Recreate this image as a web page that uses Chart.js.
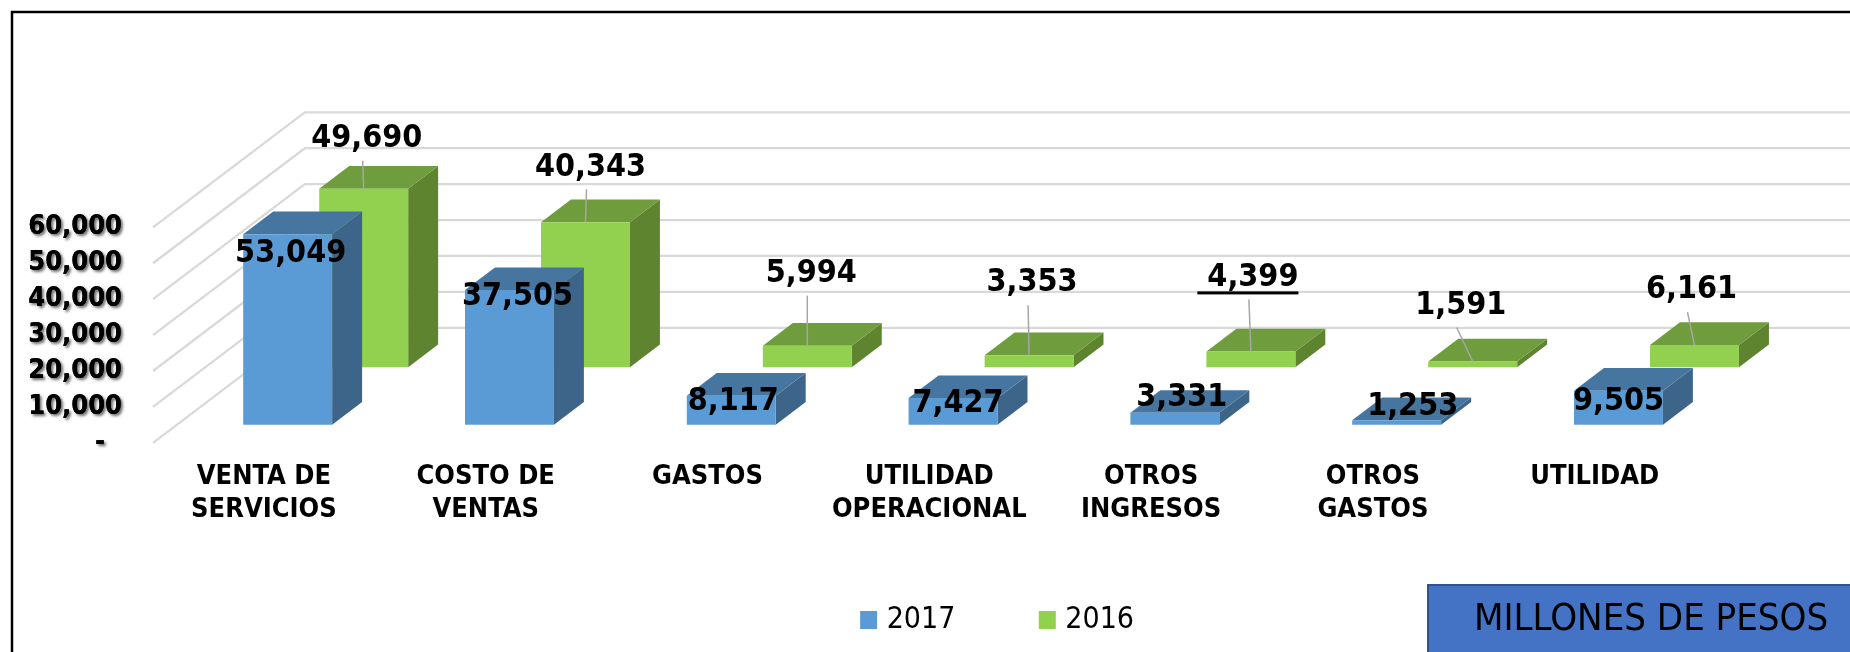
<!DOCTYPE html>
<html>
<head>
<meta charset="utf-8">
<title>Millones de pesos</title>
<script src="https://cdn.jsdelivr.net/npm/chart.js"></script>
<style>
  html, body { margin: 0; padding: 0; background: #fff; overflow: hidden; }
  canvas { display: block; }
</style>
</head>
<body>
<canvas id="myChart" width="1850" height="652"></canvas>
<script>
// data
var categories = [
  ['VENTA DE', 'SERVICIOS'],
  ['COSTO DE', 'VENTAS'],
  'GASTOS',
  ['UTILIDAD', 'OPERACIONAL'],
  ['OTROS', 'INGRESOS'],
  ['OTROS', 'GASTOS'],
  'UTILIDAD'
];
var values2017 = [53049, 37505, 8117, 7427, 3331, 1253, 9505];
var values2016 = [49690, 40343, 5994, 3353, 4399, 1591, 6161];
var seriesNames = ['2017', '2016'];
var yTickLabels = ['-  ', '10,000', '20,000', '30,000', '40,000', '50,000', '60,000'];

// where each value label sits, relative to the top front edge of its bar
var labelOffsets2017 = [[3, 19], [8, 7], [2, 6], [5, 6], [7, -15], [16, -14], [0, 11]];
var labelOffsets2016 = [[3, -50], [5, -55], [4, -72], [3, -72], [2, -74], [-12, -56], [-3, -55]];

var FONT = 'DejaVu Sans Condensed';

// fake 3d: a point at depth d moves up by d and right by d * SLOPE
var SLOPE = 1.32;
var WALL_DEPTH = 115;
var BAR_DEPTH = 22.7;
var seriesDepth = [18, 75.6];
var seriesColors = [
  { front: '#5B9BD5', top: '#46759F', side: '#3C6589' },
  { front: '#92D050', top: '#6F9C3C', side: '#5F8430' }
];

function poly(ctx, color, pts) {
  ctx.fillStyle = color;
  ctx.beginPath();
  ctx.moveTo(pts[0][0], pts[0][1]);
  for (var i = 1; i < pts.length; i++) ctx.lineTo(pts[i][0], pts[i][1]);
  ctx.closePath();
  ctx.fill();
}

var fake3d = {
  id: 'fake3d',
  afterLayout: function(chart) {
    // legend sits lower and right of where chart.js centers it
    chart.legend.left += 147;
    chart.legend.right += 147;
    chart.legend.top = 516;
  },
  beforeDraw: function(chart) {
    var ctx = chart.ctx, y = chart.scales.y;

    // frame
    ctx.save();
    ctx.strokeStyle = '#000';
    ctx.lineWidth = 2.5;
    ctx.beginPath();
    ctx.moveTo(12, 652);
    ctx.lineTo(12, 12);
    ctx.lineTo(1850, 12);
    ctx.stroke();
    ctx.restore();

    // soft shadow under the y labels
    ctx.save();
    ctx.font = 'bold 27px ' + FONT;
    ctx.textAlign = 'right';
    ctx.textBaseline = 'middle';
    ctx.fillStyle = '#000';
    ctx.shadowColor = 'rgba(0,0,0,0.6)';
    ctx.shadowBlur = 3;
    ctx.shadowOffsetX = 2;
    ctx.shadowOffsetY = 2;
    y.ticks.forEach(function(t, i) {
      ctx.fillText(yTickLabels[i], y.right - y.options.ticks.padding, y.getPixelForTick(i));
    });
    ctx.restore();
  },
  beforeDatasetsDraw: function(chart) {
    var ctx = chart.ctx, y = chart.scales.y, area = chart.chartArea;
    var dx = WALL_DEPTH * SLOPE;

    // grid runs along the side wall, then along the back wall
    ctx.save();
    ctx.strokeStyle = '#D9D9D9';
    ctx.lineWidth = 2.3;
    y.ticks.forEach(function(t, i) {
      var py = y.getPixelForTick(i);
      ctx.beginPath();
      ctx.moveTo(area.left, py);
      ctx.lineTo(area.left + dx, py - WALL_DEPTH);
      ctx.lineTo(chart.width, py - WALL_DEPTH);
      ctx.stroke();
    });
    ctx.restore();
  },
  beforeDatasetDraw: function(chart, args) {
    var ctx = chart.ctx;
    var d = seriesDepth[args.index], c = seriesColors[args.index];
    var ox = d * SLOPE, bx = BAR_DEPTH * SLOPE;
    args.meta.data.forEach(function(bar) {
      var l = bar.x - bar.width / 2 + ox, r = bar.x + bar.width / 2 + ox;
      var t = bar.y - d, b = bar.base - d;
      poly(ctx, c.side, [[r, t], [r + bx, t - BAR_DEPTH], [r + bx, b - BAR_DEPTH], [r, b]]);
      poly(ctx, c.top, [[l, t], [l + bx, t - BAR_DEPTH], [r + bx, t - BAR_DEPTH], [r, t]]);
      poly(ctx, c.front, [[l, t], [r, t], [r, b], [l, b]]);
    });
    return false; // flat bar from chart.js not wanted
  },
  afterDatasetsDraw: function(chart) {
    var ctx = chart.ctx;
    var offsets = [labelOffsets2017, labelOffsets2016];
    ctx.save();
    ctx.font = 'bold 32px ' + FONT;
    ctx.textAlign = 'center';
    ctx.textBaseline = 'middle';
    chart.data.datasets.forEach(function(ds, s) {
      var d = seriesDepth[s], meta = chart.getDatasetMeta(s);
      meta.data.forEach(function(bar, i) {
        var cx = bar.x + d * SLOPE, top = bar.y - d;
        var lx = cx + offsets[s][i][0], ly = top + offsets[s][i][1];
        if (s === 1) {
          // leader line up from the 2016 bars
          ctx.strokeStyle = '#A6A6A6';
          ctx.lineWidth = 1.5;
          ctx.beginPath();
          ctx.moveTo(lx - 4, ly + 22);
          ctx.lineTo(cx, top);
          ctx.stroke();
        }
        var txt = ds.data[i].toLocaleString('en-US');
        ctx.fillStyle = '#000';
        ctx.fillText(txt, lx, ly);
        if (s === 1 && i === 4) {
          // this one label is underlined in the original, with a blank in front
          var w = ctx.measureText(txt).width;
          ctx.fillRect(lx - w / 2 - 10, ly + 14, w + 10, 3);
        }
      });
    });
    ctx.restore();

    // note in the corner
    ctx.save();
    ctx.fillStyle = '#4472C4';
    ctx.fillRect(1427, 584, 423, 68);
    ctx.strokeStyle = '#2F528F';
    ctx.lineWidth = 2;
    ctx.beginPath();
    ctx.moveTo(1428, 652);
    ctx.lineTo(1428, 585);
    ctx.lineTo(1850, 585);
    ctx.stroke();
    ctx.fillStyle = '#000';
    ctx.font = '38px ' + FONT;
    ctx.textAlign = 'center';
    ctx.textBaseline = 'middle';
    ctx.fillText('MILLONES DE PESOS', 1651, 620);
    ctx.restore();
  }
};

var ctx = document.getElementById('myChart').getContext('2d');
var chart = new Chart(ctx, {
  type: 'bar',
  data: {
    labels: categories,
    datasets: [
      // the border only fattens the legend square, so its text sits closer
      { label: seriesNames[0], data: values2017, backgroundColor: seriesColors[0].front, borderColor: seriesColors[0].front, borderWidth: 11, grouped: false, barPercentage: 1, categoryPercentage: 0.401 },
      { label: seriesNames[1], data: values2016, backgroundColor: seriesColors[1].front, borderColor: seriesColors[1].front, borderWidth: 11, grouped: false, barPercentage: 1, categoryPercentage: 0.401 }
    ]
  },
  options: {
    responsive: false,
    animation: false,
    layout: { padding: { left: 0, right: 144.4, top: 227.3, bottom: -4.5 } },
    plugins: {
      tooltip: { enabled: false },
      legend: {
        position: 'bottom',
        labels: {
          boxWidth: 6,
          boxHeight: 7,
          padding: 89,
          color: '#000',
          font: { family: FONT, size: 30 }
        }
      }
    },
    scales: {
      x: {
        grid: { display: false, drawTicks: false },
        border: { display: false },
        afterFit: function(scale) { scale.height = 84.7; },
        ticks: {
          color: '#000',
          autoSkip: false,
          maxRotation: 0,
          minRotation: 0,
          padding: 17.5,
          font: { family: FONT, size: 27, weight: 'bold', lineHeight: 1.22 }
        }
      },
      y: {
        min: 0,
        max: 60000,
        grid: { display: false, drawTicks: false },
        border: { display: false },
        afterFit: function(scale) { scale.width = 153; },
        ticks: {
          color: '#000',
          stepSize: 10000,
          autoSkip: false,
          padding: 31,
          font: { family: FONT, size: 27, weight: 'bold' },
          callback: function(v, i) { return yTickLabels[i]; }
        }
      }
    }
  },
  plugins: [fake3d]
});
</script>
</body>
</html>
